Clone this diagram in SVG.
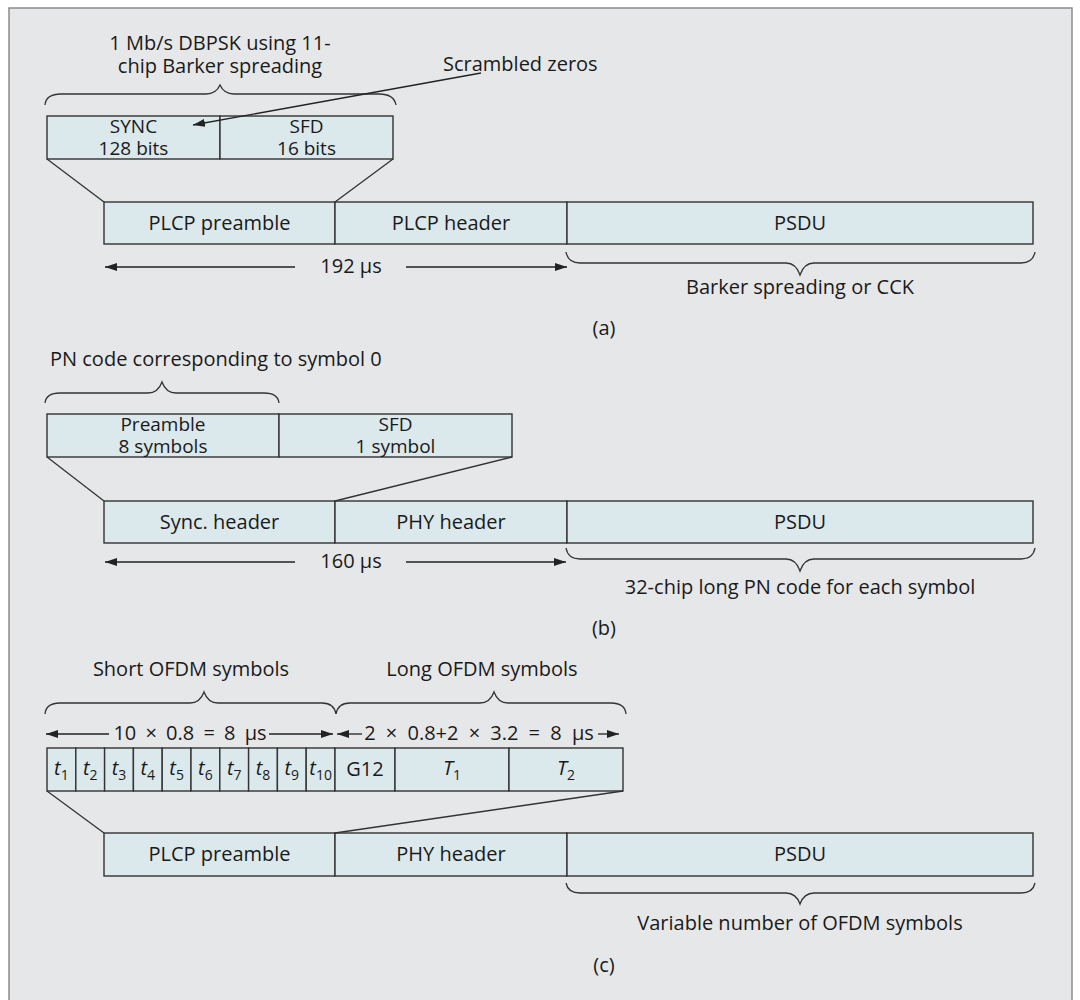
<svg xmlns="http://www.w3.org/2000/svg" width="1080" height="1000" viewBox="0 0 1080 1000">
<defs>
<marker id="ah" viewBox="0 0 12 8" refX="12" refY="4" markerWidth="12" markerHeight="8" markerUnits="userSpaceOnUse" orient="auto">
<path d="M0,0 L12,4 L0,8 z" fill="#222"/>
</marker>
<style>
text{font-family:"Open Sans","Liberation Sans",Arial,sans-serif;font-size:20px;fill:#1a1a1a;text-anchor:middle}
.l{text-anchor:start}
.tw{font-size:19px}
.box{fill:#dbe8ec;stroke:#333;stroke-width:1.4}
.ln{stroke:#333;stroke-width:1.3;fill:none}
.ar{stroke:#222;stroke-width:1.3;fill:none;marker-end:url(#ah)}
.br{stroke:#333;stroke-width:1.3;fill:none}
.it{font-style:italic}
.sb{font-size:14px}
</style>
</defs>
<rect x="0" y="0" width="1080" height="1000" fill="#ffffff"/>
<rect x="9" y="8" width="1063" height="1010" fill="#e6e7e8" stroke="#8c8c8c" stroke-width="1.5"/>

<!-- Braces -->
<g id="braces">
<path class="br" d="M45,105 Q46,94 61,94 L206,94 Q216,94 220,85 Q224,94 234,94 L379,94 Q394,94 396,105"/>
<path class="br" d="M566,252 Q568,263 580,263 L786,263 Q796,263 800,275 Q804,263 814,263 L1021,263 Q1033,263 1035,252"/>
<path class="br" d="M45,403 Q46,393 60,393 L148,393 Q158,393 162,382 Q166,393 176,393 L264,393 Q278,393 279,403"/>
<path class="br" d="M566,548 Q568,559 580,559 L786,559 Q796,559 800,571 Q804,559 814,559 L1021,559 Q1033,559 1035,548"/>
<path class="br" d="M45,714 Q46,703 60,703 L190,703 Q200,703 204,692 Q208,703 218,703 L322,703 Q334,703 336,714"/>
<path class="br" d="M336,714 Q338,703 350,703 L480,703 Q490,703 494,692 Q498,703 508,703 L611,703 Q625,703 626,714"/>
<path class="br" d="M566,883 Q568,893 580,893 L786,893 Q796,893 800,904 Q804,893 814,893 L1021,893 Q1033,893 1035,883"/>
</g>

<!-- Labels -->
<g id="labels">
<text x="220" y="50">1 Mb/s DBPSK using 11-</text>
<text x="220" y="73">chip Barker spreading</text>
<text class="l" x="443" y="71">Scrambled zeros</text>
<text x="351" y="273">192 μs</text>
<text x="800" y="294">Barker spreading or CCK</text>
<text x="604" y="335">(a)</text>

<text class="l" x="50" y="366">PN code corresponding to symbol 0</text>
<text x="351" y="568">160 μs</text>
<text x="800" y="594">32-chip long PN code for each symbol</text>
<text x="604" y="635">(b)</text>

<text x="191" y="676">Short OFDM symbols</text>
<text x="482" y="676">Long OFDM symbols</text>
<text x="190" y="740" word-spacing="4">10 × 0.8 = 8 μs</text>
<text x="479" y="740" word-spacing="5">2 × 0.8+2 × 3.2 = 8 μs</text>
<text x="800" y="930">Variable number of OFDM symbols</text>
<text x="604" y="972">(c)</text>
</g>

<!-- (a) nodes -->
<g id="a-sync"><rect class="box" x="47" y="116" width="173" height="43"/><text class="tw" x="133.5" y="133">SYNC</text><text class="tw" x="133.5" y="155">128 bits</text></g>
<g id="a-sfd"><rect class="box" x="220" y="116" width="173" height="43"/><text class="tw" x="306.5" y="133">SFD</text><text class="tw" x="306.5" y="155">16 bits</text></g>
<g id="a-preamble"><rect class="box" x="104" y="202" width="231" height="42"/><text x="219.5" y="230">PLCP preamble</text></g>
<g id="a-header"><rect class="box" x="335" y="202" width="232" height="42"/><text x="451" y="230">PLCP header</text></g>
<g id="a-psdu"><rect class="box" x="567" y="202" width="466" height="42"/><text x="800" y="230">PSDU</text></g>

<!-- (b) nodes -->
<g id="b-preamble"><rect class="box" x="47" y="414" width="232" height="43"/><text class="tw" x="163" y="431">Preamble</text><text class="tw" x="163" y="453">8 symbols</text></g>
<g id="b-sfd"><rect class="box" x="279" y="414" width="233" height="43"/><text class="tw" x="395.5" y="431">SFD</text><text class="tw" x="395.5" y="453">1 symbol</text></g>
<g id="b-sync"><rect class="box" x="104" y="501" width="231" height="42"/><text x="219.5" y="529">Sync. header</text></g>
<g id="b-phy"><rect class="box" x="335" y="501" width="232" height="42"/><text x="451" y="529">PHY header</text></g>
<g id="b-psdu"><rect class="box" x="567" y="501" width="466" height="42"/><text x="800" y="529">PSDU</text></g>

<!-- (c) nodes -->
<g id="c-t1"><rect class="box" x="47" y="748" width="28.8" height="43"/><text x="61.4" y="775"><tspan class="it">t</tspan><tspan class="sb" dy="5">1</tspan></text></g>
<g id="c-t2"><rect class="box" x="75.8" y="748" width="28.8" height="43"/><text x="90.2" y="775"><tspan class="it">t</tspan><tspan class="sb" dy="5">2</tspan></text></g>
<g id="c-t3"><rect class="box" x="104.6" y="748" width="28.8" height="43"/><text x="119" y="775"><tspan class="it">t</tspan><tspan class="sb" dy="5">3</tspan></text></g>
<g id="c-t4"><rect class="box" x="133.4" y="748" width="28.8" height="43"/><text x="147.8" y="775"><tspan class="it">t</tspan><tspan class="sb" dy="5">4</tspan></text></g>
<g id="c-t5"><rect class="box" x="162.2" y="748" width="28.8" height="43"/><text x="176.6" y="775"><tspan class="it">t</tspan><tspan class="sb" dy="5">5</tspan></text></g>
<g id="c-t6"><rect class="box" x="191" y="748" width="28.8" height="43"/><text x="205.4" y="775"><tspan class="it">t</tspan><tspan class="sb" dy="5">6</tspan></text></g>
<g id="c-t7"><rect class="box" x="219.8" y="748" width="28.8" height="43"/><text x="234.2" y="775"><tspan class="it">t</tspan><tspan class="sb" dy="5">7</tspan></text></g>
<g id="c-t8"><rect class="box" x="248.6" y="748" width="28.8" height="43"/><text x="263" y="775"><tspan class="it">t</tspan><tspan class="sb" dy="5">8</tspan></text></g>
<g id="c-t9"><rect class="box" x="277.4" y="748" width="28.8" height="43"/><text x="291.8" y="775"><tspan class="it">t</tspan><tspan class="sb" dy="5">9</tspan></text></g>
<g id="c-t10"><rect class="box" x="306.2" y="748" width="28.8" height="43"/><text x="320.6" y="775"><tspan class="it">t</tspan><tspan class="sb" dy="5">10</tspan></text></g>
<g id="c-g12"><rect class="box" x="335" y="748" width="60" height="43"/><text x="365" y="776">G12</text></g>
<g id="c-T1"><rect class="box" x="395" y="748" width="114" height="43"/><text x="452" y="775"><tspan class="it">T</tspan><tspan class="sb" dy="5">1</tspan></text></g>
<g id="c-T2"><rect class="box" x="509" y="748" width="114" height="43"/><text x="566" y="775"><tspan class="it">T</tspan><tspan class="sb" dy="5">2</tspan></text></g>
<g id="c-preamble"><rect class="box" x="104" y="833" width="231" height="43"/><text x="219.5" y="861">PLCP preamble</text></g>
<g id="c-phy"><rect class="box" x="335" y="833" width="232" height="43"/><text x="451" y="861">PHY header</text></g>
<g id="c-psdu"><rect class="box" x="567" y="833" width="466" height="43"/><text x="800" y="861">PSDU</text></g>

<!-- Connectors -->
<g id="connectors">
<line class="ln" x1="47" y1="159" x2="104" y2="202"/>
<line class="ln" x1="393" y1="159" x2="335" y2="202"/>
<line class="ar" x1="481" y1="73" x2="193" y2="125"/>
<line class="ar" x1="295" y1="267" x2="105" y2="267"/>
<line class="ar" x1="406" y1="267" x2="567" y2="267"/>

<line class="ln" x1="47" y1="457" x2="104" y2="501"/>
<line class="ln" x1="512" y1="457" x2="335" y2="501"/>
<line class="ar" x1="295" y1="562" x2="105" y2="562"/>
<line class="ar" x1="406" y1="562" x2="566" y2="562"/>

<line class="ar" x1="109" y1="734" x2="46" y2="734"/>
<line class="ar" x1="269" y1="734" x2="333" y2="734"/>
<line class="ar" x1="362" y1="734" x2="337" y2="734"/>
<line class="ar" x1="598" y1="734" x2="619" y2="734"/>
<line class="ln" x1="47" y1="791" x2="104" y2="833"/>
<line class="ln" x1="623" y1="791" x2="335" y2="833"/>
</g>
</svg>
